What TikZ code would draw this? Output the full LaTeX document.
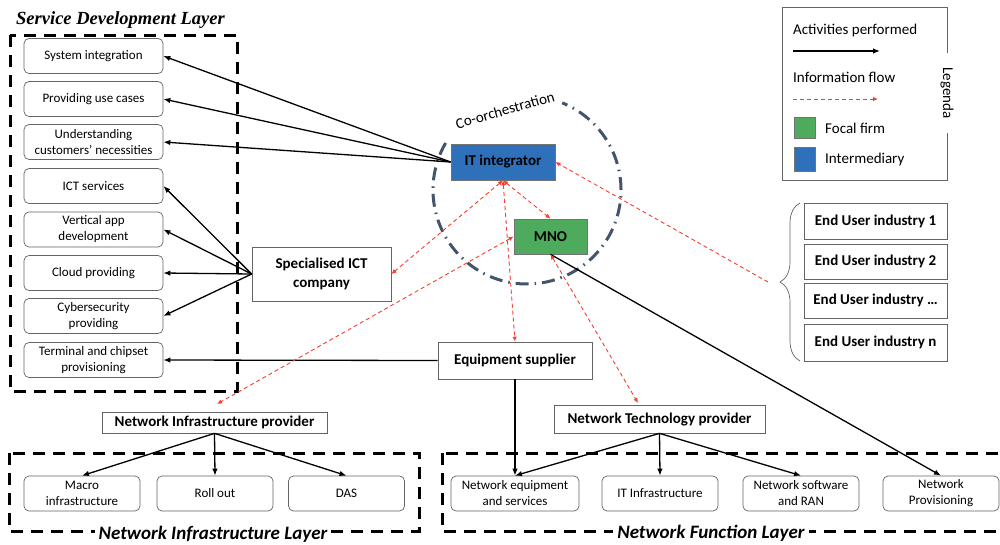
\documentclass[tikz,border=0pt]{standalone}
\usepackage{fontspec}
\setmainfont{Carlito}
\newfontfamily\titleserif{Liberation Serif}
\usetikzlibrary{arrows.meta,decorations.pathreplacing,calc}
\definecolor{itblue}{RGB}{46,112,186}
\definecolor{mnogreen}{RGB}{78,170,92}
\definecolor{infored}{RGB}{250,60,45}
\definecolor{slate}{RGB}{68,84,106}
\definecolor{boxgray}{RGB}{100,100,100}
\tikzset{
  sbox/.style={draw=boxgray, line width=0.7pt, rounded corners=5pt, minimum width=139pt, minimum height=35pt, align=center, inner sep=1pt, font=\fontsize{13}{16}\selectfont},
  bbox/.style={sbox, minimum width=116pt},
  actor/.style={draw=boxgray, line width=0.7pt, align=center, inner sep=1pt, font=\bfseries\fontsize{15}{19}\selectfont},
  act/.style={-{Latex[length=7pt,width=5.5pt]}, line width=1.3pt},
  infoline/.style={infored, line width=0.9pt, dash pattern=on 4pt off 3pt},
  info/.style={infoline, {Latex[length=5pt,width=4.5pt]}-{Latex[length=5pt,width=4.5pt]}},
  infoone/.style={infoline, -{Latex[length=5pt,width=4.5pt]}},
  layer/.style={draw, line width=3pt, dash pattern=on 12pt off 8pt},
  ltitle/.style={fill=white, inner sep=4pt, font=\bfseries\itshape\fontsize{19}{21}\selectfont},
  legtext/.style={anchor=west, inner sep=0pt, font=\fontsize{15}{17}\selectfont}
}
\begin{document}
\begin{tikzpicture}[x=1pt, y=-1pt]
\useasboundingbox (0,0) rectangle (1000,544);

% Service Development Layer
\draw[layer] (10,35) rectangle (237,391);
\node[anchor=west, inner sep=0pt, font=\titleserif\bfseries\itshape\fontsize{18.5}{20}\selectfont] (sdlt) at (16,20) {Service Development Layer};
\node[sbox] (si) at (93.5,56) {System integration};
\node[sbox] (puc) at (93.5,99) {Providing use cases};
\node[sbox] (ucn) at (93.5,142) {Understanding\\customers’ necessities};
\node[sbox] (ict) at (93.5,186) {ICT services};
\node[sbox] (vad) at (93.5,229.5) {Vertical app\\development};
\node[sbox] (cp) at (93.5,273) {Cloud providing};
\node[sbox] (cyb) at (93.5,316) {Cybersecurity\\providing};
\node[sbox] (tcp) at (93.5,360) {Terminal and chipset\\provisioning};

% Actors
\node[actor, fill=itblue, draw=black!55, minimum width=104pt, minimum height=36pt] (it) at (503,162) {IT integrator};
\node[actor, fill=mnogreen, draw=black!55, minimum width=73pt, minimum height=35pt] (mno) at (550.5,236.5) {MNO};
\node[actor, minimum width=139pt, minimum height=54pt] (spec) at (321.5,274) {Specialised ICT\\company};
\node[actor, minimum width=154pt, minimum height=37pt] (eq) at (515,360.5) {Equipment supplier};
\node[actor, minimum width=225pt, minimum height=21pt] (nip) at (214.5,422.5) {Network Infrastructure provider};
\node[actor, minimum width=211pt, minimum height=28pt] (ntp) at (659.5,419) {Network Technology provider};

% End user industries
\node[actor, minimum width=143pt, minimum height=36pt] (eu1) at (875.5,221) {End User industry 1};
\node[actor, minimum width=143pt, minimum height=35pt] (eu2) at (875.5,261.5) {End User industry 2};
\node[actor, minimum width=143pt, minimum height=35pt] (eu3) at (875.5,300.5) {End User industry …};
\node[actor, minimum width=143pt, minimum height=37pt] (eun) at (875.5,342.5) {End User industry n};
\draw[boxgray, line width=0.7pt, decorate, decoration={brace, amplitude=20pt}] (800,361) -- (800,203);
\coordinate (brtip) at (768,282);

% Co-orchestration
\draw[slate, line width=3pt, dash pattern=on 13pt off 6pt on 1.5pt off 6pt] (527,190) ++(150:94pt) arc[start angle=150, end angle=428, radius=94pt];
\node[rotate=16, inner sep=0pt, font=\fontsize{15}{17}\selectfont] (coo) at (505,110) {Co-orchestration};

% Network Infrastructure Layer
\draw[layer] (9,453) rectangle (419,531);
\node[bbox] (mac) at (82,493.5) {Macro\\infrastructure};
\node[bbox] (roll) at (215,493.5) {Roll out};
\node[bbox] (das) at (346.5,493.5) {DAS};
\node[ltitle] (nilt) at (213,534) {Network Infrastructure Layer};

% Network Function Layer
\draw[layer] (442,453) rectangle (1012,531);
\node[bbox, minimum width=128pt] (nes) at (515,493.5) {Network equipment\\and services};
\node[bbox] (iti) at (660,493.5) {IT Infrastructure};
\node[bbox] (nsr) at (801,493.5) {Network software\\and RAN};
\node[bbox] (np) at (941,493.5) {Network\\Provisioning};
\node[ltitle] (nflt) at (711,533) {Network Function Layer};

% Activities
\foreach \t in {si,puc,ucn} \draw[act] (it.west) -- (\t.east);
\foreach \t in {ict,vad,cp,cyb} \draw[act] (spec.west) -- (\t.east);
\draw[act] (eq.west) -- (tcp.east);
\draw[act] (eq.south) -- (nes.north);
\foreach \t in {mac,roll,das} \draw[act] (nip.south) -- (\t.north);
\foreach \t in {nes,iti,nsr} \draw[act] (ntp.south) -- (\t.north);
\draw[act] (mno.south) -- (np.north);

% Information flows
\coordinate (niptip) at (217,404);
\coordinate (ntptip) at (638,403);
\draw[info] (it.south) -- (spec.east);
\draw[info] (it.south) -- (mno.north);
\draw[info] (it.south) -- (eq.north);
\draw[info] (mno.west) -- (niptip);
\draw[info] (mno.south) -- (ntptip);
\draw[infoone] (brtip) -- (it.east);

% Legend
\draw[boxgray, line width=0.7pt] (947,53) -- (947,7) -- (782,7) -- (782,180) -- (947,180) -- (947,133);
\node[rotate=-90, inner sep=0pt, font=\fontsize{15}{17}\selectfont] (legt) at (947,93) {Legenda};
\node[legtext] (lact) at (793,30) {Activities performed};
\coordinate (la1) at (793,51);
\coordinate (la2) at (880,51);
\draw[act] (la1) -- (la2);
\node[legtext] (linf) at (793,77) {Information flow};
\coordinate (li1) at (793,99);
\coordinate (li2) at (878,99);
\draw[infoone] (li1) -- (li2);
\node[draw=black!55, fill=mnogreen, minimum width=21pt, minimum height=21pt, inner sep=0pt] (lg) at (804.5,128) {};
\node[legtext] (lgt) at (825,128) {Focal firm};
\node[draw=black!55, fill=itblue, minimum width=21pt, minimum height=24pt, inner sep=0pt] (lb) at (804.5,159) {};
\node[legtext] (lbt) at (825,159) {Intermediary};
\end{tikzpicture}
\end{document}
